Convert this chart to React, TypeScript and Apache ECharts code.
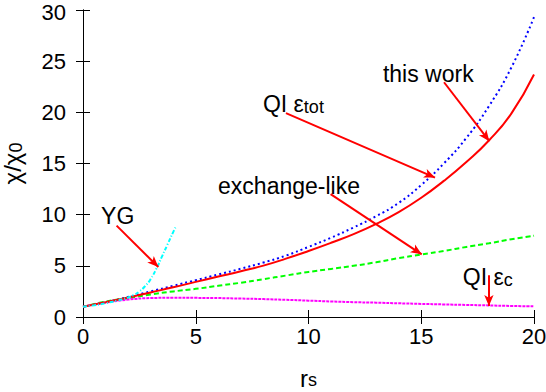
import React, { useEffect, useRef } from "react";
import * as echarts from "echarts";

// r_s grid for the main curves
const rsValues = [0, 1, 2, 3, 4, 5, 6, 7, 8, 9, 10, 11, 12, 13, 14, 15, 16, 17, 18, 19, 20];
// "this work" (red solid)
const thisWork = [1, 1.45, 1.9, 2.4, 2.9, 3.43, 3.95, 4.47, 5.02, 5.7, 6.45, 7.25, 8.1, 9.1, 10.25, 11.65, 13.3, 15.15, 17.25, 19.9, 23.7];
// QI eps_tot (blue dotted)
const qiTot = [1, 1.45, 1.95, 2.5, 3.05, 3.6, 4.15, 4.72, 5.32, 6.0, 6.85, 7.75, 8.75, 9.85, 11.15, 12.9, 15.0, 17.5, 20.6, 24.4, 29.3];
// exchange-like (green dashed)
const exchangeLike = [1, 1.5, 1.85, 2.2, 2.5, 2.75, 3.05, 3.35, 3.7, 4.05, 4.4, 4.7, 5.0, 5.35, 5.75, 6.1, 6.45, 6.85, 7.2, 7.6, 7.95];
// QI eps_c (magenta)
const qiC = [1, 1.4, 1.7, 1.85, 1.88, 1.87, 1.85, 1.8, 1.75, 1.68, 1.6, 1.52, 1.45, 1.4, 1.34, 1.28, 1.23, 1.18, 1.13, 1.08, 1.04];
// YG (cyan)
const ygRs = [0, 0.5, 1, 1.5, 2, 2.25, 2.5, 2.75, 3, 3.25, 3.5, 3.75, 4, 4.1];
const ygChi = [1, 1.15, 1.35, 1.6, 1.9, 2.15, 2.5, 3.0, 3.7, 4.7, 5.9, 7.1, 8.3, 8.75];

const xTicks = [0, 5, 10, 15, 20];
const yTicks = [0, 5, 10, 15, 20, 25, 30];

// annotations: label anchor (left, middle) and arrow from -> to, in data coordinates
const annotations = [
  { rich: "{m|YG}", at: [0.8, 9.85], from: [1.49, 8.93], to: [3.34, 4.88] },
  { rich: "{m|this work}", at: [13.3, 23.75], from: [16.01, 22.94], to: [18.02, 17.18] },
  { rich: "{m|QI ε}{s|tot}", at: [7.98, 20.8], from: [9.0, 19.93], to: [15.61, 13.62] },
  { rich: "{m|exchange-like}", at: [5.99, 12.85], from: [10.98, 12.01], to: [15.02, 6.12] },
  { rich: "{m|QI ε}{s|c}", at: [16.84, 3.95], from: [18.0, 4.08], to: [18.0, 1.07] },
];

const FONT = "Liberation Sans, Arial, Helvetica, sans-serif";
const richStyles = {
  m: { fontSize: 23, lineHeight: 24, fontFamily: FONT, color: "#000" },
  s: { fontSize: 18, lineHeight: 8, fontFamily: FONT, color: "#000", verticalAlign: "bottom" },
};
const yTitleRich = {
  m: { fontSize: 24, lineHeight: 26, fontFamily: FONT, color: "#000" },
  s: { fontSize: 18, lineHeight: 8, fontFamily: FONT, color: "#000", verticalAlign: "bottom" },
};
const xTitleRich = {
  m: { fontSize: 24, lineHeight: 22, fontFamily: FONT, color: "#000" },
  s: { fontSize: 18, lineHeight: 8, fontFamily: FONT, color: "#000", verticalAlign: "bottom" },
};

const pair = (xs: number[], ys: number[]) => xs.map((x, i) => [x, ys[i]]);

export default function App() {
  const ref = useRef<HTMLDivElement>(null);
  useEffect(() => {
    if (!ref.current) return;
    const chart = echarts.init(ref.current, null, { renderer: "svg" });
    const axisCommon = {
      type: "value" as const,
      axisLine: { show: true, lineStyle: { color: "#000", width: 1 } },
      axisTick: { show: true, inside: true, length: 7, lineStyle: { color: "#000", width: 1 } },
      splitLine: { show: false },
    };
    const topTick = yTicks[yTicks.length - 1];
    chart.setOption({
      animation: false,
      backgroundColor: "#fff",
      grid: { left: 83, right: 12, top: 10, bottom: 75, containLabel: false, outerBoundsMode: "none" },
      xAxis: [
        {
          ...axisCommon,
          min: xTicks[0],
          max: xTicks[xTicks.length - 1],
          interval: 5,
          position: "bottom",
          axisLabel: { fontSize: 22, lineHeight: 22, color: "#000", margin: 8, fontFamily: FONT },
          name: "{m|r}{s|s}",
          nameLocation: "middle",
          nameGap: 50,
          nameTextStyle: { rich: xTitleRich },
        },
        {
          ...axisCommon,
          min: xTicks[0],
          max: xTicks[xTicks.length - 1],
          interval: 5,
          position: "top",
          axisLabel: { show: false },
        },
      ],
      yAxis: [
        {
          ...axisCommon,
          min: yTicks[0],
          max: topTick,
          interval: 5,
          position: "left",
          axisLabel: {
            fontSize: 22,
            lineHeight: 16,
            color: "#000",
            margin: 17,
            fontFamily: FONT,
            formatter: (v: number) => (v === topTick ? `{t|${v}}` : `${v}`),
            rich: { t: { fontSize: 22, lineHeight: 16, fontFamily: FONT, color: "#000", padding: [5, 0, 0, 0] } },
          },
          name: "{m|χ/χ}{s|0}",
          nameLocation: "middle",
          nameGap: 58,
          nameTextStyle: { rich: yTitleRich },
        },
        {
          ...axisCommon,
          min: yTicks[0],
          max: topTick,
          interval: 5,
          position: "right",
          axisLabel: { show: false },
        },
      ],
      series: [
        {
          type: "line",
          name: "QI eps_tot",
          data: pair(rsValues, qiTot),
          showSymbol: false,
          smooth: true,
          lineStyle: { color: "#0000ff", width: 2, type: [2, 3] },
        },
        {
          type: "line",
          name: "exchange-like",
          data: pair(rsValues, exchangeLike),
          showSymbol: false,
          smooth: true,
          lineStyle: { color: "#00ff00", width: 2, type: [5, 3] },
        },
        {
          type: "line",
          name: "QI eps_c",
          data: pair(rsValues, qiC),
          showSymbol: false,
          smooth: true,
          lineStyle: { color: "#ff00ff", width: 2, type: [3, 1] },
        },
        {
          type: "line",
          name: "this work",
          data: pair(rsValues, thisWork),
          showSymbol: false,
          smooth: true,
          lineStyle: { color: "#ff0000", width: 2, type: "solid" },
          markLine: {
            silent: true,
            symbol: ["none", "arrow"],
            symbolSize: [7, 11],
            label: { show: false },
            lineStyle: { color: "#ff0000", width: 2, type: "solid" },
            data: annotations.map((a) => [{ coord: a.from }, { coord: a.to }]),
          },
        },
        {
          type: "line",
          name: "YG",
          data: pair(ygRs, ygChi),
          showSymbol: false,
          smooth: true,
          lineStyle: { color: "#00ffff", width: 2, type: [4, 2, 1, 2] },
        },
      ],
    });
    const graphic = annotations.map((a) => {
      const p = chart.convertToPixel({ gridIndex: 0 }, a.at) as number[];
      return {
        type: "text",
        x: p[0],
        y: p[1],
        z: 100,
        style: {
          text: a.rich,
          rich: richStyles,
          align: "left",
          verticalAlign: "middle",
        },
      };
    });
    chart.setOption({ graphic });
    return () => chart.dispose();
  }, []);
  return <div ref={ref} style={{ width: 546, height: 392, position: "absolute", left: 0, top: 0 }} />;
}
